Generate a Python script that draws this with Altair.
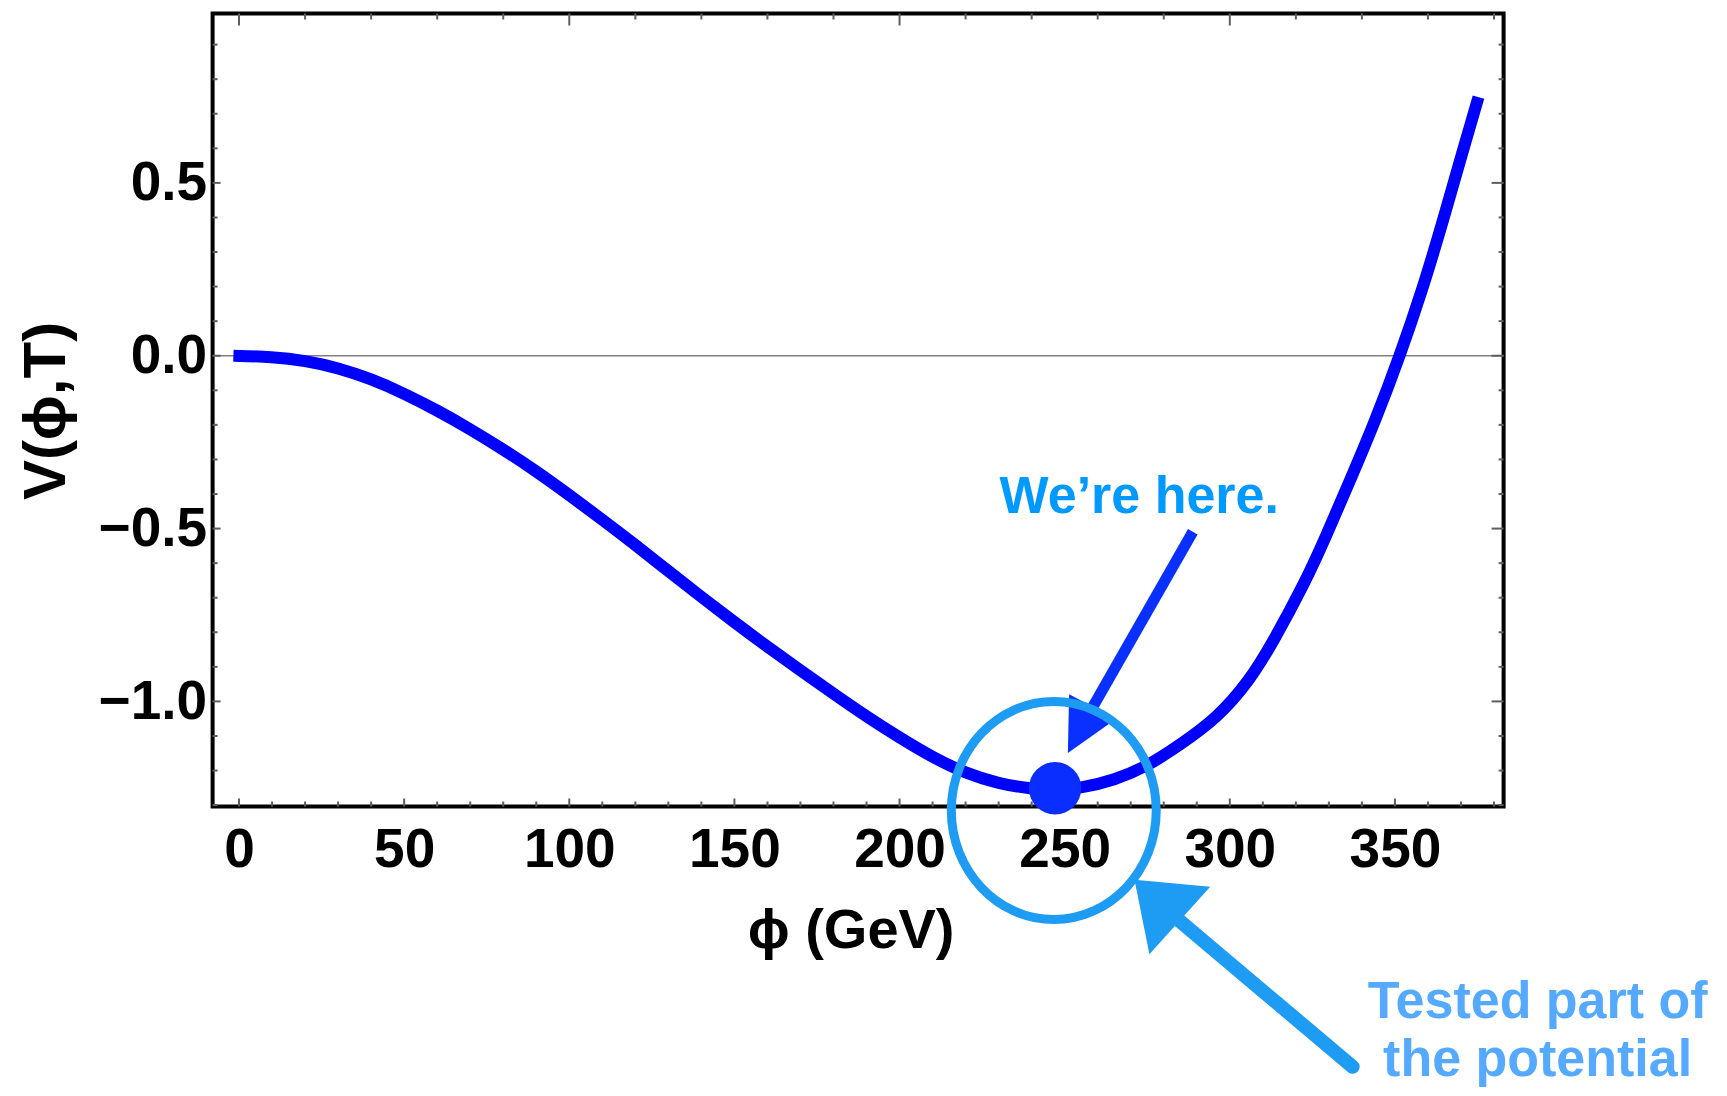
import altair as alt
import pandas as pd

# ---- curve values ----
phi = [-1.7, 10, 20, 30, 40, 50, 60, 70, 80, 90, 100, 110, 120, 130, 140, 150,
       160, 170, 180, 190, 200, 210, 220, 230, 240, 247, 255, 265, 275, 285,
       296, 306, 313, 323, 329, 336, 344, 351.5, 358.5, 364.5, 370.5, 375.3]
V = [0.000, -0.003, -0.014, -0.035, -0.067, -0.109, -0.158, -0.212, -0.271,
     -0.334, -0.403, -0.474, -0.547, -0.623, -0.698, -0.771, -0.842, -0.910,
     -0.978, -1.044, -1.105, -1.162, -1.208, -1.238, -1.253, -1.256, -1.251,
     -1.228, -1.188, -1.125, -1.050, -0.940, -0.830, -0.652, -0.525, -0.370,
     -0.190, 0.000, 0.196, 0.389, 0.591, 0.748]

# ---- ticks ----
x_labels = [0, 50, 100, 150, 200, 250, 300, 350]
x_bottom_minor = [v for v in range(10, 390, 10) if v % 50 != 0]
x_top_major = [0, 100, 200, 300]
x_top_minor = [v for v in range(20, 390, 20) if v % 100 != 0]
y_labels = [-1.0, -0.5, 0.0, 0.5]
y_minor = [-1.3, -1.2, -1.1, -0.9, -0.8, -0.7, -0.6, -0.4, -0.3, -0.2, -0.1,
           0.1, 0.2, 0.3, 0.4, 0.6, 0.7, 0.8, 0.9]

x_domain = [-8, 382.9]
y_domain = [-1.304, 0.99]

# ---- annotations ----
dot_phi, dot_V = [247.1], [-1.251]
ring_phi, ring_V = [246.7], [-1.3155]
arrow1_phi, arrow1_V = [288.8], [-0.509]
arrow1_phi2, arrow1_V2 = [258.5], [-1.016]
head1_phi, head1_V = [254.7], [-1.082]
arrow2_phi, arrow2_V = [337.2], [-2.057]
arrow2_phi2, arrow2_V2 = [284.8], [-1.635]
head2_phi, head2_V = [278.0], [-1.575]
note1_text, note1_phi, note1_V = ["We\u2019re here."], [230.3], [-0.4555]
note2_text = ["Tested part of", "the potential"]
note2_phi = [393.2, 393.2]
note2_V = [-1.915, -2.083]

W, H = 1291, 793
FONT = "Liberation Sans"

xs = alt.Scale(domain=x_domain, nice=False, zero=False)
ys = alt.Scale(domain=y_domain, nice=False, zero=False)

xaxis = alt.Axis(values=x_labels, format="d", title="\u03d5 (GeV)", ticks=False,
                 domain=False, grid=False, labelFontSize=55, labelFontWeight="bold",
                 labelColor="black", labelPadding=17, labelFont=FONT,
                 titleFont=FONT, titleFontSize=56, titleFontWeight="bold",
                 titleColor="black", titleX=638, titleY=141,
                 titleBaseline="alphabetic", labelFlush=False, labelOverlap=False)
yaxis = alt.Axis(values=y_labels, format=".1f", title="V(\u03d5,T)", ticks=False,
                 domain=False, grid=False, labelFontSize=55, labelFontWeight="bold",
                 labelColor="black", labelPadding=6, labelFont=FONT,
                 titleFont=FONT, titleFontSize=60, titleFontWeight="bold",
                 titleColor="black", titleAngle=270, titleX=-148, titleY=397,
                 titleBaseline="alphabetic", labelFlush=False, labelOverlap=False)


def X(f):
    return alt.X(f + ":Q", scale=xs, axis=xaxis)


def Y(f):
    return alt.Y(f + ":Q", scale=ys, axis=yaxis)


TICK = "#5e5e5e"


def hticks(vals, top, length):
    df = pd.DataFrame({"t": vals})
    y0, y1 = (0, length) if top else (H, H - length)
    return alt.Chart(df).mark_rule(color=TICK, strokeWidth=2).encode(
        x=X("t"), y=alt.value(y0), y2=alt.value(y1))


def vticks(vals, right, length):
    df = pd.DataFrame({"t": vals})
    x0, x1 = (W, W - length) if right else (0, length)
    return alt.Chart(df).mark_rule(color=TICK, strokeWidth=2).encode(
        y=Y("t"), x=alt.value(x0), x2=alt.value(x1))


zero = alt.Chart(pd.DataFrame({"z": [0.0]})).mark_rule(
    color="#808080", strokeWidth=1.5).encode(y=Y("z"))

curve = alt.Chart(pd.DataFrame({"phi": phi, "V": V})).mark_line(
    color="#0000FF", strokeWidth=12, interpolate="basis", strokeCap="butt"
).encode(x=X("phi"), y=Y("V"))

arrow1 = alt.Chart(pd.DataFrame({"a": arrow1_phi, "b": arrow1_V,
                                 "a2": arrow1_phi2, "b2": arrow1_V2})).mark_rule(
    color="#0A30FF", strokeWidth=11, strokeCap="butt").encode(
    x=X("a"), y=Y("b"), x2="a2:Q", y2="b2:Q")

tri1 = "M 0 -1 L 1.01 1 L -1.01 1 Z"
head1 = alt.Chart(pd.DataFrame({"a": head1_phi, "b": head1_V})).mark_point(
    shape=tri1, size=2756, angle=208, filled=True, opacity=1, color="#0A30FF",
    strokeWidth=0).encode(x=X("a"), y=Y("b"))

dot = alt.Chart(pd.DataFrame({"a": dot_phi, "b": dot_V})).mark_point(
    shape="circle", size=2750, filled=True, opacity=1, color="#0A2EFF",
    strokeWidth=0, clip=False).encode(x=X("a"), y=Y("b"))

CYAN = "#1E9BF2"
ring_path = "M 0.94 0 A 0.94 1 0 1 1 -0.94 0 A 0.94 1 0 1 1 0.94 0 Z"
ring = alt.Chart(pd.DataFrame({"a": ring_phi, "b": ring_V})).mark_point(
    shape=ring_path, size=47524, filled=False, opacity=1, color=CYAN,
    strokeWidth=9, clip=False).encode(x=X("a"), y=Y("b"))

arrow2 = alt.Chart(pd.DataFrame({"a": arrow2_phi, "b": arrow2_V,
                                 "a2": arrow2_phi2, "b2": arrow2_V2})).mark_rule(
    color=CYAN, strokeWidth=14, strokeCap="round", clip=False).encode(
    x=X("a"), y=Y("b"), x2="a2:Q", y2="b2:Q")

tri2 = "M 0 -1 L 1.49 1 L -1.49 1 Z"
head2 = alt.Chart(pd.DataFrame({"a": head2_phi, "b": head2_V})).mark_point(
    shape=tri2, size=3721, angle=312, filled=True, opacity=1, color=CYAN,
    strokeWidth=0, clip=False).encode(x=X("a"), y=Y("b"))

note1 = alt.Chart(pd.DataFrame({"t": note1_text, "a": note1_phi, "b": note1_V})).mark_text(
    font=FONT, fontSize=52, fontWeight="bold", color="#0099FF", align="left",
    baseline="alphabetic").encode(x=X("a"), y=Y("b"), text="t:N")

note2 = alt.Chart(pd.DataFrame({"t": note2_text, "a": note2_phi, "b": note2_V})).mark_text(
    font=FONT, fontSize=52, fontWeight="bold", color="#55AAFF", align="center",
    baseline="alphabetic", clip=False).encode(x=X("a"), y=Y("b"), text="t:N")

chart = alt.layer(
    zero,
    hticks(x_labels, False, 8), hticks(x_bottom_minor, False, 5),
    hticks(x_top_major, True, 12), hticks(x_top_minor, True, 6),
    vticks(y_labels, False, 8), vticks(y_minor, False, 5),
    vticks(y_labels, True, 12), vticks(y_minor, True, 5),
    curve, arrow1, head1, dot, ring, arrow2, head2, note1, note2,
).properties(
    width=W, height=H,
    padding={"left": 204.6, "top": 5.5, "right": 214, "bottom": 281.5},
    autosize=alt.AutoSizeParams(type="none"),
    background="white",
).configure(font=FONT).configure_view(stroke="black", strokeWidth=4)

chart.save("out.html", embed_options={"renderer": "svg", "actions": False})
